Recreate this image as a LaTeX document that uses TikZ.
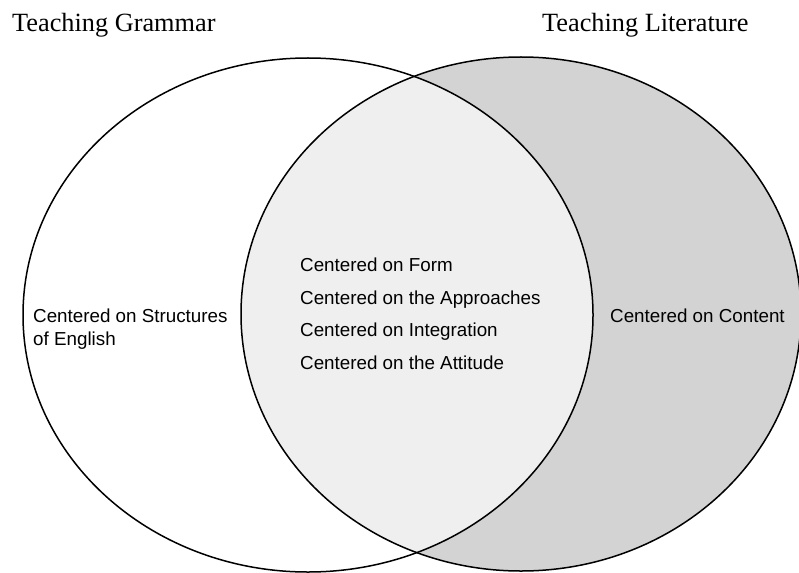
\documentclass[tikz,border=0pt]{standalone}
\usepackage{fontspec}
\setmainfont{Liberation Serif}
\newfontfamily\arialfont{Liberation Sans}
\usetikzlibrary{positioning}

\definecolor{litgrey}{RGB}{211,211,211}
\definecolor{bothgrey}{RGB}{239,239,239}

\tikzset{
 title/.style={anchor=base west, inner sep=0pt, font=\fontsize{26.3}{30}\selectfont},
 item/.style={anchor=base west, inner sep=0pt, align=left, font=\arialfont\fontsize{18.8}{22.5}\selectfont},
}

\begin{document}
\begin{tikzpicture}[x=1pt,y=-1pt]
\useasboundingbox (0,0) rectangle (799,572);

\fill[litgrey] (521,314) ellipse [x radius=280pt, y radius=257pt];
\begin{scope}
 \clip (308,315) ellipse [x radius=285pt, y radius=257pt];
 \fill[bothgrey] (521,314) ellipse [x radius=280pt, y radius=257pt];
\end{scope}
\draw[line width=1.5pt] (308,315) ellipse [x radius=285pt, y radius=257pt];
\draw[line width=1.5pt] (521,314) ellipse [x radius=280pt, y radius=257pt];

\node[title] (grammar) at (12,32) {Teaching Grammar};
\node[title] (literature) at (542,32) {Teaching Literature};

\node[item] (structures) at (33,345) {Centered on Structures\\of English};
\node[item] (content) at (610,322.7) {Centered on Content};

\foreach \t [count=\i] in {Form,the Approaches,Integration,the Attitude} {
 \node[item] (both\i) at (300,{271.7+32.5*(\i-1)}) {Centered on \t};
}
\end{tikzpicture}
\end{document}
